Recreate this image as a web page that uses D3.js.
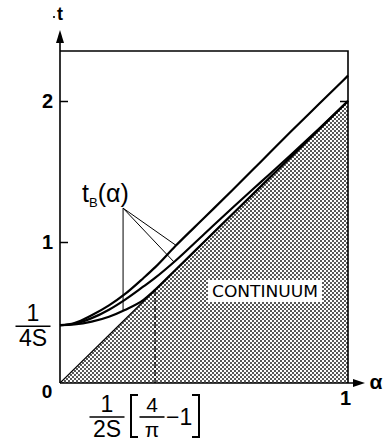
<!DOCTYPE html>
<html>
<head>
<meta charset="utf-8">
<script src="https://cdn.jsdelivr.net/npm/d3@7"></script>
<style>
  html, body { margin: 0; padding: 0; background: #fff; }
  svg { display: block; font-family: "Liberation Sans", "DejaVu Sans", sans-serif; }
</style>
</head>
<body>
<svg id="chart" width="383" height="447"></svg>
<script>
// values (alpha on x, t on y)
const alphaPts = [0, 0.05, 0.11, 0.17, 0.225, 0.29, 0.33, 0.4, 0.5, 0.6, 0.7, 0.8, 0.9, 1.0]
const tUpper   = [0.41, 0.425, 0.48, 0.55, 0.63, 0.745, 0.82, 0.97, 1.17, 1.37, 1.575, 1.78, 1.98, 2.18]
const tMiddle  = [0.41, 0.42, 0.46, 0.52, 0.59, 0.685, 0.745, 0.865, 1.055, 1.245, 1.43, 1.615, 1.805, 2.0]
const tLower   = [0.41, 0.415, 0.435, 0.47, 0.518, 0.59, 0.66, 0.8, 1.0, 1.2, 1.4, 1.6, 1.8, 2.0]
const continuumAlpha = [0, 1]
const continuumT = [0, 2]
const alphaStar = 0.33        // dashed line position
const yTicks = [1, 2]
const xTicks = [1]
const tMax = 2.355
const leaderFrom = [0.219, 1.24]
const leaderTo = [0.219, 0.403, 0.396]   // alpha where each leader meets lower / upper / middle curve

const svg = d3.select('#chart')
const x = d3.scaleLinear().domain([0, 1]).range([60, 348])
const y = d3.scaleLinear().domain([0, 2]).range([383, 101])

// dot screen for the continuum
const defs = svg.append('defs')
const pat = defs.append('pattern')
    .attr('id', 'dots')
    .attr('patternUnits', 'userSpaceOnUse')
    .attr('width', 4).attr('height', 4)
pat.append('circle').attr('cx', 1).attr('cy', 1).attr('r', 0.95).attr('fill', '#111')
pat.append('circle').attr('cx', 3).attr('cy', 3).attr('r', 0.95).attr('fill', '#111')

// continuum region
const region = [[0, 0], [continuumAlpha[1], continuumT[1]], [1, 0]]
svg.append('path')
    .attr('d', 'M' + region.map(d => [x(d[0]), y(d[1])].join(',')).join('L') + 'Z')
    .attr('fill', 'url(#dots)')

svg.append('line')
    .attr('x1', x(continuumAlpha[0])).attr('y1', y(continuumT[0]))
    .attr('x2', x(continuumAlpha[1])).attr('y2', y(continuumT[1]))
    .attr('stroke', '#000').attr('stroke-width', 1.1)

// dashed threshold line
svg.append('line')
    .attr('x1', x(alphaStar)).attr('x2', x(alphaStar))
    .attr('y1', y(2 * alphaStar)).attr('y2', y(0))
    .attr('stroke', '#000').attr('stroke-width', 1.2)
    .attr('stroke-dasharray', '6,2')

// label box
const box = svg.append('g')
box.append('rect')
    .attr('x', 208).attr('y', 280).attr('width', 114).attr('height', 22)
    .attr('fill', '#fff')
box.append('text')
    .attr('x', 212).attr('y', 297)
    .attr('textLength', 106).attr('lengthAdjust', 'spacingAndGlyphs')
    .attr('font-family', 'DejaVu Sans').attr('font-size', 16)
    .text('CONTINUUM')

// frame: top and right
svg.append('path')
    .attr('d', `M${x(0)},${y(tMax)}H${x(1)}V${y(0)}`)
    .attr('fill', 'none').attr('stroke', '#000').attr('stroke-width', 1.6)

// t_B curves
const line = d3.line()
    .x((d, i) => x(alphaPts[i]))
    .y(d => y(d))
    .curve(d3.curveMonotoneX)
;[tUpper, tMiddle, tLower].forEach(vals => {
  svg.append('path')
      .attr('d', line(vals))
      .attr('fill', 'none').attr('stroke', '#000')
      .attr('stroke-width', 2.2).attr('stroke-linejoin', 'round')
})

// leader lines to the curves
const interp = (vals, a) => {
  const i = Math.max(1, d3.bisectLeft(alphaPts, a))
  const f = (a - alphaPts[i - 1]) / (alphaPts[i] - alphaPts[i - 1])
  return vals[i - 1] + f * (vals[i] - vals[i - 1])
}
const leaderCurves = [tLower, tUpper, tMiddle]
leaderTo.forEach((a, k) => {
  svg.append('line')
      .attr('x1', x(leaderFrom[0])).attr('y1', y(leaderFrom[1]))
      .attr('x2', x(a)).attr('y2', y(interp(leaderCurves[k], a)))
      .attr('stroke', '#000').attr('stroke-width', 1)
})

// axes
const yAxis = svg.append('g')
    .attr('transform', `translate(${x(0)},0)`)
    .call(d3.axisLeft(y).tickValues(yTicks).tickSize(-8).tickPadding(7).tickFormat(d3.format('d')))
yAxis.select('.domain').remove()
yAxis.selectAll('line').attr('stroke-width', 1.5)
yAxis.selectAll('text').attr('font-size', 20).attr('font-weight', 'bold').attr('fill', '#000')

const yAxisR = svg.append('g')
    .attr('transform', `translate(${x(1)},0)`)
    .call(d3.axisRight(y).tickValues([2]).tickSize(-8).tickFormat(''))
yAxisR.select('.domain').remove()
yAxisR.selectAll('line').attr('stroke-width', 1.5)

const xAxis = svg.append('g')
    .attr('transform', `translate(0,${y(0)})`)
    .call(d3.axisBottom(x).tickValues(xTicks).tickSize(0).tickPadding(8).tickFormat(d3.format('d')))
xAxis.select('.domain').remove()
xAxis.selectAll('text').attr('font-size', 20).attr('font-weight', 'bold').attr('fill', '#000')
    .attr('dx', -3)

svg.append('text')
    .attr('x', x(0) - 13).attr('y', y(0) + 15)
    .attr('text-anchor', 'middle').attr('font-size', 19).attr('font-weight', 'bold')
    .text('0')

// axis lines with arrows
svg.append('line')
    .attr('x1', x(0)).attr('y1', y(0)).attr('x2', x(0)).attr('y2', 40)
    .attr('stroke', '#000').attr('stroke-width', 1.6)
svg.append('path')
    .attr('d', `M${x(0)},30L${x(0) - 4},43L${x(0) + 4},43Z`)
svg.append('line')
    .attr('x1', x(0)).attr('y1', y(0)).attr('x2', 356).attr('y2', y(0))
    .attr('stroke', '#000').attr('stroke-width', 1.6)
svg.append('path')
    .attr('d', `M365,${y(0)}L353,${y(0) - 4}L353,${y(0) + 4}Z`)

svg.append('text')
    .attr('x', 376).attr('y', y(0) + 6)
    .attr('text-anchor', 'middle').attr('font-size', 21).attr('font-weight', 'bold')
    .text('α')
svg.append('text')
    .attr('x', 60).attr('y', 20)
    .attr('text-anchor', 'middle').attr('font-size', 18).attr('font-weight', 'bold')
    .text('t')
svg.append('circle').attr('cx', 54).attr('cy', 17).attr('r', 1.1)

// t_B(alpha) label
const lab = svg.append('text')
    .attr('x', 82).attr('y', 202)
    .attr('font-size', 25)
lab.append('tspan').text('t')
lab.append('tspan').attr('font-size', 13).attr('dy', 5).text('B')
lab.append('tspan').attr('dy', -5).text('(α)')

// stacked fraction helper
const frac = (g, cx, top, num, den, w, fs) => {
  g.append('text').attr('x', cx).attr('y', top).attr('text-anchor', 'middle')
      .attr('font-size', fs).text(num)
  g.append('line').attr('x1', cx - w / 2).attr('x2', cx + w / 2)
      .attr('y1', top + 5).attr('y2', top + 5)
      .attr('stroke', '#000').attr('stroke-width', 1.6)
  g.append('text').attr('x', cx).attr('y', top + 25).attr('text-anchor', 'middle')
      .attr('font-size', fs).text(den)
}

// 1/4S on the t axis
const gl = svg.append('g')
frac(gl, 33, y(0.41) - 4, '1', '4S', 35, 23)

// 1/(2S)[4/pi - 1] below the alpha axis
const gb = svg.append('g')
frac(gb, 107, 412, '1', '2S', 35, 23)
gb.append('path')
    .attr('d', 'M138,395H131V437H138')
    .attr('fill', 'none').attr('stroke', '#000').attr('stroke-width', 2)
frac(gb, 152, 412, '4', 'π', 25, 21)
gb.append('text').attr('x', 166).attr('y', 425).attr('font-size', 23).text('−1')
gb.append('path')
    .attr('d', 'M192,395H199V437H192')
    .attr('fill', 'none').attr('stroke', '#000').attr('stroke-width', 2)
</script>
</body>
</html>
